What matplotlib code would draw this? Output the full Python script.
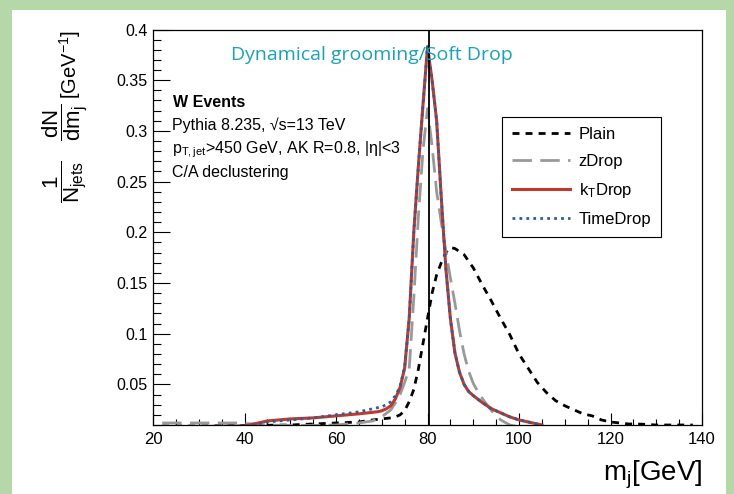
import matplotlib
matplotlib.use("Agg")
import matplotlib.pyplot as plt
import matplotlib.patches as patches
from matplotlib.ticker import MultipleLocator, FormatStrFormatter

# jet mass distributions (m_j in GeV, 1/N dN/dm in GeV^-1)
plain_m = [22, 30, 40, 50, 55, 60, 65, 68, 70, 72, 73, 74, 75, 76, 77, 78, 79, 80, 81, 82,
           83, 84, 85, 86, 88, 90, 92, 94, 96, 98, 100, 102, 104, 106, 108, 110, 112, 114,
           116, 118, 120, 122, 124, 126, 130, 135, 138]
plain_y = [0.009, 0.009, 0.0095, 0.010, 0.011, 0.012, 0.013, 0.015, 0.016, 0.017, 0.018,
           0.020, 0.024, 0.033, 0.045, 0.065, 0.090, 0.115, 0.140, 0.158, 0.170, 0.180,
           0.185, 0.184, 0.178, 0.165, 0.148, 0.132, 0.115, 0.099, 0.080, 0.066, 0.052,
           0.042, 0.034, 0.029, 0.025, 0.021, 0.019, 0.015, 0.013, 0.012, 0.011, 0.011,
           0.010, 0.010, 0.010]

zdrop_m = [22, 30, 38, 42, 45, 50, 55, 60, 65, 68, 70, 72, 73, 74, 75, 76, 77, 78, 79, 80,
           81, 82, 83, 84, 85, 86, 87, 88, 89, 90, 91, 92, 94, 96, 98, 100]
zdrop_y = [0.012, 0.012, 0.012, 0.011, 0.010, 0.0095, 0.0095, 0.010, 0.012, 0.014, 0.018,
           0.025, 0.032, 0.040, 0.052, 0.065, 0.135, 0.215, 0.280, 0.322, 0.285, 0.240,
           0.210, 0.182, 0.155, 0.130, 0.103, 0.080, 0.063, 0.051, 0.043, 0.036, 0.024,
           0.015, 0.010, 0.008]

kt_m = [22, 40, 42, 45, 50, 55, 60, 65, 69, 70, 71, 72, 73, 74, 75, 76, 77, 78, 79, 80, 81,
        82, 83, 84, 85, 86, 87, 88, 89, 90, 92, 94, 96, 98, 100, 102, 104, 105]
kt_y = [0.008, 0.009, 0.011, 0.014, 0.016, 0.017, 0.019, 0.021, 0.023, 0.024, 0.026, 0.029,
        0.036, 0.047, 0.066, 0.115, 0.200, 0.265, 0.325, 0.383, 0.350, 0.310, 0.235, 0.165,
        0.115, 0.081, 0.062, 0.050, 0.043, 0.039, 0.032, 0.026, 0.022, 0.018, 0.015, 0.013,
        0.011, 0.010]

time_m = kt_m
time_y = [0.008, 0.009, 0.010, 0.013, 0.015, 0.017, 0.020, 0.023, 0.027, 0.028, 0.030, 0.033,
          0.039, 0.048, 0.067, 0.115, 0.200, 0.265, 0.325, 0.383, 0.350, 0.310, 0.235, 0.165,
          0.115, 0.081, 0.062, 0.050, 0.043, 0.039, 0.032, 0.026, 0.022, 0.018, 0.015, 0.013,
          0.011, 0.010]

w_mass = 80.4
x_ticks = [20, 40, 60, 80, 100, 120, 140]
y_ticks = [0.05, 0.1, 0.15, 0.2, 0.25, 0.3, 0.35, 0.4]

W, H = 734, 494
plt.rcParams['font.family'] = ['Liberation Sans', 'DejaVu Sans']
plt.rcParams['mathtext.fontset'] = 'custom'
plt.rcParams['mathtext.rm'] = 'Liberation Sans'
plt.rcParams['mathtext.it'] = 'Liberation Sans'
plt.rcParams['mathtext.bf'] = 'Liberation Sans:bold'


def px(x, y):
    # pixel position (from top-left) -> figure fraction
    return x / W, 1 - y / H


fig = plt.figure(figsize=(W / 100, H / 100), dpi=100, facecolor='#b6d7a8')
# white slide panel inside the green frame
fig.patches.append(patches.Rectangle(px(12, 494), (726 - 12) / W, (494 - 10) / H,
                                     transform=fig.transFigure, facecolor='white',
                                     edgecolor='none', zorder=-5))

ax = fig.add_axes([153 / W, 1 - 425 / H, 549 / W, 395.5 / H])
ax.set_facecolor('white')

ax.plot(plain_m, plain_y, color='black', lw=2.0, ls=(0, (2.5, 2.2)), label='Plain')
ax.plot(zdrop_m, zdrop_y, color='#999999', lw=2.0, ls=(0, (7, 3)), label='zDrop')
ax.plot(kt_m, kt_y, color='#c0392b', lw=2.2, label=r'k$_{\rm T}$Drop')
ax.plot(time_m, time_y, color='#2b5d9b', lw=2.0, ls=(0, (1, 1.5)), label='TimeDrop')
ax.axvline(w_mass, color='black', lw=1.3, zorder=5)

ax.set_xlim(20, 140)
ax.set_ylim(0.01, 0.4)
ax.set_xticks(x_ticks)
ax.set_yticks(y_ticks)
ax.xaxis.set_minor_locator(MultipleLocator(5))
ax.yaxis.set_minor_locator(MultipleLocator(0.01))
ax.yaxis.set_major_formatter(FormatStrFormatter('%g'))
ax.tick_params(axis='x', which='major', direction='in', length=8.5, width=0.8, labelsize=12, pad=5)
ax.tick_params(axis='x', which='minor', direction='in', length=4.3, width=0.8)
ax.tick_params(axis='y', which='major', direction='in', length=12, width=0.8, labelsize=11.5, pad=4)
ax.tick_params(axis='y', which='minor', direction='in', length=6, width=0.8)
for s in ax.spines.values():
    s.set_linewidth(0.9)

leg = ax.legend(loc='upper left', bbox_to_anchor=((502 - 153) / 549, (425 - 117) / 395.5),
                borderaxespad=0, fontsize=12, frameon=True, fancybox=False,
                edgecolor='black', framealpha=1, handlelength=3.5, labelspacing=0.72,
                borderpad=0.6, handletextpad=0.5)
leg.get_frame().set_linewidth(0.8)

# axis titles, ROOT style (unit sits on the denominator line)
fig.text(*px(83, 30), r'[GeV$^{-1}$]', rotation=90, ha='right', va='top', fontsize=14.5)
fig.text(*px(65, 104), r'$\dfrac{1}{N_{\rm jets}}\quad \dfrac{\rm dN}{{\rm dm}_{\rm j}}$',
         rotation=90, ha='center', va='top', fontsize=16)
fig.text(*px(702, 480), r'm$_{\rm j}$[GeV]', ha='right', va='baseline', fontsize=20)

# labels in the plot
fig.text(*px(173, 107), 'W Events', fontsize=11.5, fontweight='bold')
fig.text(*px(172, 130), 'Pythia 8.235, \u221as=13 TeV', fontsize=11.5)
fig.text(*px(172, 153), 'p$_{\\rm T,jet}$>450 GeV, AK R=0.8, |\u03b7|<3', fontsize=11.5)
fig.text(*px(172, 177), 'C/A declustering', fontsize=11.5)
fig.text(*px(372, 55), 'Dynamical grooming/Soft Drop', ha='center', va='center',
         fontsize=14, color='#1ba1b5', family=['Open Sans', 'DejaVu Sans'], zorder=10)

fig.savefig('out.png', dpi=100, facecolor=fig.get_facecolor())
